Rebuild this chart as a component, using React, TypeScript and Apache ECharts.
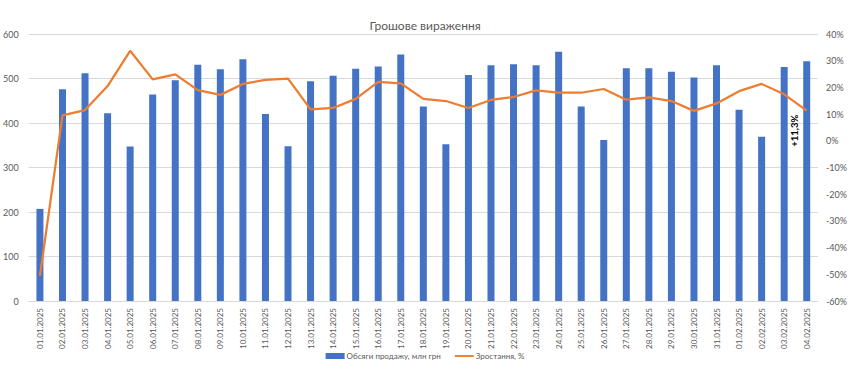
import React, { useEffect, useRef } from "react";
import * as echarts from "echarts";

const categories = [
  "01.01.2025","02.01.2025","03.01.2025","04.01.2025","05.01.2025","06.01.2025","07.01.2025",
  "08.01.2025","09.01.2025","10.01.2025","11.01.2025","12.01.2025","13.01.2025","14.01.2025",
  "15.01.2025","16.01.2025","17.01.2025","18.01.2025","19.01.2025","20.01.2025","21.01.2025",
  "22.01.2025","23.01.2025","24.01.2025","25.01.2025","26.01.2025","27.01.2025","28.01.2025",
  "29.01.2025","30.01.2025","31.01.2025","01.02.2025","02.02.2025","03.02.2025","04.02.2025",
];

const salesValues = [
  207, 476, 512, 422, 347, 464, 496, 531, 521, 543, 420, 348, 494, 506, 522, 527, 554, 437,
  352, 508, 530, 532, 530, 560, 437, 362, 523, 523, 515, 502, 530, 430, 369, 526, 539,
];

const growthValues = [
  -50.6, 9.5, 11.5, 20.5, 33.7, 23.0, 24.9, 19.0, 17.2, 21.3, 22.8, 23.3, 11.8, 12.3, 15.7,
  22.1, 21.5, 15.7, 14.9, 12.3, 15.3, 16.4, 18.9, 18.0, 18.0, 19.4, 15.4, 16.3, 14.9, 11.2,
  14.0, 18.6, 21.3, 17.4, 11.3,
];

const lastLabel = "+11,3%";

const FONT = "Lato, 'Noto Sans', sans-serif";
const GRAY = "#595959";

export default function App() {
  const ref = useRef<HTMLDivElement>(null);
  useEffect(() => {
    document.body.style.margin = "0";
    const chart = echarts.init(ref.current!, null, { renderer: "svg" });
    const lineData = growthValues.map((v, i) =>
      i === growthValues.length - 1
        ? {
            value: v,
            label: {
              show: true,
              formatter: lastLabel,
              position: "inside",
              rotate: 90,
              offset: [-20, -12],
              color: "#000",
              fontWeight: "bold",
              fontSize: 9.5,
              fontFamily: FONT,
            },
          }
        : v
    );
    chart.setOption({
      animation: false,
      textStyle: { fontFamily: FONT },
      title: {
        text: "Грошове вираження",
        left: "center",
        top: 14,
        textStyle: { fontSize: 12, fontWeight: "normal", color: GRAY, fontFamily: FONT },
      },
      grid: { left: 27, right: 30, top: 34, bottom: 70 },
      legend: {
        bottom: 6,
        left: "center",
        itemGap: 14,
        itemWidth: 19,
        itemHeight: 6,
        textStyle: { fontSize: 8, color: GRAY, fontFamily: FONT, padding: [0, 0, 0, -3] },
        data: [
          { name: "Обсяги продажу, млн грн", icon: "rect" },
          { name: "Зростання, %", icon: "path://M0,0 L20,0 L20,2 L0,2 Z" },
        ],
      },
      xAxis: {
        type: "category",
        data: categories,
        axisLine: { lineStyle: { color: "#d9d9d9" } },
        axisTick: { show: false },
        axisLabel: { rotate: 90, fontSize: 8, color: GRAY, interval: 0, margin: 7 },
      },
      yAxis: [
        {
          type: "value",
          min: 0,
          max: 600,
          interval: 100,
          axisLine: { show: false },
          axisTick: { show: false },
          axisLabel: { fontSize: 9, color: GRAY, margin: 10 },
          splitLine: { lineStyle: { color: "#d9d9d9" } },
        },
        {
          type: "value",
          min: -60,
          max: 40,
          interval: 10,
          axisLine: { show: false },
          axisTick: { show: false },
          axisLabel: { fontSize: 9, color: GRAY, formatter: "{value}%", margin: 8 },
          splitLine: { show: false },
        },
      ],
      series: [
        {
          name: "Обсяги продажу, млн грн",
          type: "bar",
          data: salesValues,
          barWidth: 7,
          itemStyle: { color: "#4472c4" },
        },
        {
          name: "Зростання, %",
          type: "line",
          yAxisIndex: 1,
          data: lineData,
          symbol: "circle",
          symbolSize: 0,
          showSymbol: true,
          lineStyle: { color: "#ed7d31", width: 2.25 },
          itemStyle: { color: "#ed7d31" },
        },
      ],
    });
    return () => chart.dispose();
  }, []);
  return <div ref={ref} style={{ width: 850, height: 371 }} />;
}
